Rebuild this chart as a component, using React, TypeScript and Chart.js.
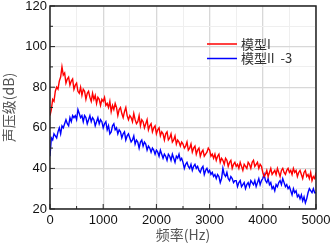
import React, { useEffect, useRef } from "react";
import { Chart, registerables } from "chart.js";

Chart.register(...registerables);

const FREQ_STEP = 25;
const SERIES_LABELS = ["模型I", "模型II  -3"];
const X_TICKS = [0, 1000, 2000, 3000, 4000, 5000];
const Y_TICKS = [20, 40, 60, 80, 100, 120];

const redValues = [
  66, 69, 74, 73, 78, 80, 79, 83, 85, 90, 86, 87, 82, 84, 85, 81, 83, 84, 79, 81,
  82, 78, 77, 80, 76, 79, 78, 74, 77, 78, 75, 73, 77, 74, 76, 72, 75, 74, 71, 74,
  73, 75, 71, 72, 70, 73, 68, 71, 69, 72, 70, 66, 69, 70, 67, 65, 68, 70, 66, 64,
  66, 65, 63, 67, 64, 62, 63, 66, 61, 64, 63, 60, 62, 64, 59, 61, 62, 58, 60, 61,
  57, 59, 60, 56, 58, 57, 54, 57, 58, 54, 55, 57, 53, 54, 56, 52, 54, 53, 51, 53,
  52, 50, 51, 53, 49, 50, 52, 48, 50, 51, 47, 49, 50, 46, 48, 49, 46, 47, 48, 50,
  49, 46, 47, 45, 47, 44, 46, 47, 43, 45, 44, 42, 45, 44, 41, 43, 44, 40, 42, 43,
  41, 42, 40, 43, 41, 39, 42, 41, 40, 43, 42, 40, 43, 44, 41, 42, 43, 40, 42, 41,
  38, 36, 37, 39, 36, 38, 40, 37, 38, 39, 37, 40, 38, 36, 39, 40, 38, 37, 39, 40,
  38, 39, 37, 40, 38, 39, 36, 38, 39, 37, 35, 38, 39, 36, 37, 35, 38, 34, 36, 35,
  38,
];

const blueValues = [
  46, 55, 54, 57, 56, 55, 58, 60, 57, 61, 60, 62, 64, 62, 61, 65, 63, 66, 65, 66,
  64, 69, 67, 65, 66, 63, 66, 65, 62, 64, 66, 63, 65, 64, 61, 63, 65, 62, 64, 63,
  60, 62, 63, 59, 61, 57, 58, 61, 62, 59, 60, 57, 59, 58, 55, 57, 58, 54, 56, 57,
  55, 53, 54, 56, 52, 54, 53, 50, 53, 54, 51, 53, 52, 49, 51, 50, 48, 50, 49, 47,
  49, 48, 46, 49, 47, 45, 47, 46, 44, 47, 46, 44, 47, 45, 43, 46, 45, 47, 44, 45,
  43, 40, 42, 43, 41, 40, 42, 39, 41, 42, 40, 41, 39, 38, 40, 41, 37, 39, 40, 38,
  39, 37, 38, 36, 37, 35, 37, 36, 33, 35, 40, 37, 36, 38, 35, 34, 36, 35, 33, 34,
  34, 31, 33, 34, 31, 32, 33, 30, 32, 33, 31, 34, 33, 32, 34, 31, 33, 35, 32, 34,
  35, 37, 34, 33, 35, 32, 33, 30, 31, 29, 32, 31, 33, 34, 32, 35, 33, 31, 32, 30,
  31, 29, 27, 30, 28, 29, 26, 27, 25, 27, 24, 26, 23, 25, 28, 30, 29, 28, 30, 28,
  28,
];

const toPoints = (vals: number[]) => vals.map((v, i) => ({ x: i * FREQ_STEP, y: v }));

const framePlugin = {
  id: "frameTicks",
  afterDraw(chart: any) {
    const { ctx, chartArea } = chart;
    const { left, right, top, bottom } = chartArea;
    const xs = chart.scales.x;
    const ys = chart.scales.y;
    ctx.save();
    ctx.strokeStyle = "#222";
    ctx.lineWidth = 1.5;
    ctx.strokeRect(left, top, right - left, bottom - top);
    ctx.lineWidth = 1;
    ctx.beginPath();
    xs.ticks.forEach((t: any) => {
      const px = xs.getPixelForValue(t.value);
      const len = X_TICKS.includes(t.value) ? 5 : 3;
      ctx.moveTo(px, bottom);
      ctx.lineTo(px, bottom - len);
    });
    ys.ticks.forEach((t: any) => {
      const py = ys.getPixelForValue(t.value);
      const len = Y_TICKS.includes(t.value) ? 5 : 3;
      ctx.moveTo(left, py);
      ctx.lineTo(left + len, py);
    });
    ctx.stroke();

    const ds = chart.data.datasets;
    ctx.font = '13px "Noto Sans CJK SC", "Liberation Sans", sans-serif';
    ctx.textBaseline = "middle";
    ds.forEach((d: any, i: number) => {
      const y = 44 + i * 14.5;
      ctx.strokeStyle = d.borderColor;
      ctx.lineWidth = 1.5;
      ctx.beginPath();
      ctx.moveTo(207, y);
      ctx.lineTo(237, y);
      ctx.stroke();
      ctx.fillStyle = "#333";
      ctx.fillText(d.label, 241, y);
    });
    ctx.restore();
  },
};

export default function App() {
  const ref = useRef<HTMLCanvasElement>(null);
  useEffect(() => {
    document.body.style.margin = "0";
    const chart = new Chart(ref.current!, {
      type: "line",
      data: {
        datasets: [
          {
            label: SERIES_LABELS[0],
            data: toPoints(redValues),
            borderColor: "#ff0000",
            borderWidth: 1.4,
            pointRadius: 0,
            tension: 0,
          },
          {
            label: SERIES_LABELS[1],
            data: toPoints(blueValues),
            borderColor: "#0000ff",
            borderWidth: 1.4,
            pointRadius: 0,
            tension: 0,
          },
        ],
      },
      options: {
        responsive: false,
        animation: false,
        layout: { padding: 0 },
        plugins: { legend: { display: false }, tooltip: { enabled: false } },
        scales: {
          x: {
            type: "linear",
            min: 0,
            max: 5000,
            afterBuildTicks: (s: any) => {
              s.ticks = [];
              for (let v = 0; v <= 5000; v += 500) s.ticks.push({ value: v });
            },
            ticks: {
              autoSkip: false,
              maxRotation: 0,
              padding: 4,
              color: "#111",
              font: { family: '"Liberation Sans", Arial, sans-serif', size: 13 },
              callback: (v: any) => (X_TICKS.includes(Number(v)) ? String(v) : ""),
            },
            grid: {
              drawTicks: false,
              color: (c: any) => (c.tick && X_TICKS.includes(c.tick.value) ? "#d8d8d8" : "#efefef"),
              lineWidth: (c: any) => (c.tick && X_TICKS.includes(c.tick.value) ? 1.3 : 1),
            },
            border: { display: false },
            title: {
              display: true,
              text: "频率(Hz)",
              color: "#555",
              padding: { top: 1, bottom: 2 },
              font: { family: '"Noto Sans CJK SC", "Liberation Sans", sans-serif', size: 14 },
            },
            afterFit: (s: any) => {
              s.height = 36;
              s.paddingLeft = 0;
              s.paddingRight = 14;
            },
          },
          y: {
            type: "linear",
            min: 20,
            max: 120,
            afterBuildTicks: (s: any) => {
              s.ticks = [];
              for (let v = 20; v <= 120; v += 10) s.ticks.push({ value: v });
            },
            ticks: {
              autoSkip: false,
              padding: 3,
              color: "#111",
              font: { family: '"Liberation Sans", Arial, sans-serif', size: 13 },
              callback: (v: any) => (Y_TICKS.includes(Number(v)) ? String(v) : ""),
            },
            grid: {
              drawTicks: false,
              color: (c: any) => (c.tick && Y_TICKS.includes(c.tick.value) ? "#d8d8d8" : "#efefef"),
              lineWidth: (c: any) => (c.tick && Y_TICKS.includes(c.tick.value) ? 1.3 : 1),
            },
            border: { display: false },
            title: {
              display: true,
              text: "声压级(dB)",
              color: "#555",
              padding: { top: 0, bottom: 4 },
              font: { family: '"Noto Sans CJK SC", "Liberation Sans", sans-serif', size: 14 },
            },
            afterFit: (s: any) => {
              s.width = 50;
              s.paddingTop = 6;
              s.paddingBottom = 0;
            },
          },
        },
      },
      plugins: [framePlugin],
    });
    return () => chart.destroy();
  }, []);
  return (
    <div style={{ position: "absolute", left: 0, top: 0, width: 330, height: 245 }}>
      <canvas ref={ref} width={330} height={245} />
    </div>
  );
}
